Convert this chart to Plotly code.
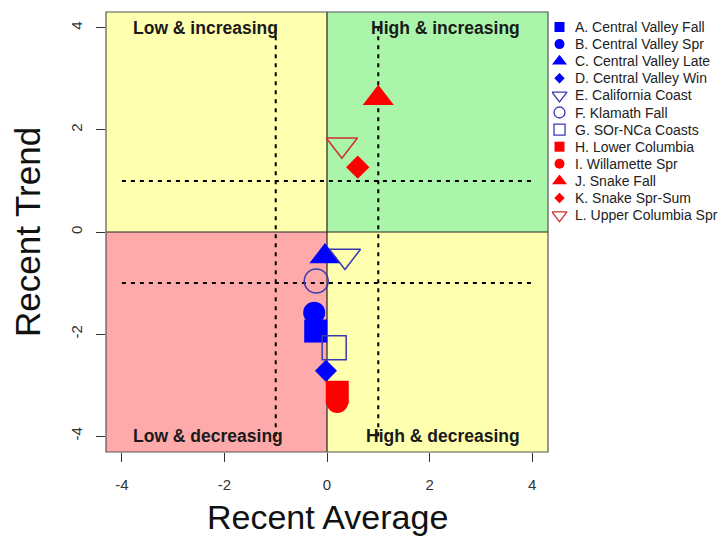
import plotly.graph_objects as go

# ---- data ----
labels = ["A. Central Valley Fall", "B. Central Valley Spr", "C. Central Valley Late",
          "D. Central Valley Win", "E. California Coast", "F. Klamath Fall",
          "G. SOr-NCa Coasts", "H. Lower Columbia", "I. Willamette Spr",
          "J. Snake Fall", "K. Snake Spr-Sum", "L. Upper Columbia Spr"]
recent_avg = [-0.22, -0.25, -0.04, -0.02, 0.35, -0.21, 0.14, 0.20, 0.20, 1.00, 0.60, 0.29]
recent_trend = [-1.94, -1.58, -0.48, -2.72, -0.47, -0.96, -2.27, -3.14, -3.33, 2.62, 1.27, 1.71]
symbols = ["square", "circle", "triangle-up", "diamond", "triangle-down-open", "circle-open",
           "square-open", "square", "circle", "triangle-up", "diamond", "triangle-down-open"]
colors = ["#0000FF", "#0000FF", "#0000FF", "#0000FF", "#3A3AB0", "#3A3AB0",
          "#3A3AB0", "#FF0000", "#FF0000", "#FF0000", "#FF0000", "#CC3030"]
sizes = [23, 22, 27, 17, 27, 24, 24, 23, 22, 27, 18, 27]
legend_sizes = [10, 10, 13, 8, 13, 11, 11, 10, 10, 13, 8, 13]

quadrant_labels = ["Low & increasing", "High & increasing", "Low & decreasing", "High & decreasing"]
quadrant_label_x = [-2.37, 2.32, -2.32, 2.26]
quadrant_label_y = [4.0, 4.0, -4.0, -4.0]
ref_lines = [-1, 1]
ref_extent = [-4, 4]
ticks = [-4, -2, 0, 2, 4]
lim = 4.31

FONT = "Liberation Sans, Arial, Helvetica, sans-serif"

W, H = 725, 537
ML, MR, MT, MB = 106, 0, 12, 85
plot_w = 442
paper_w = W - ML - MR
main_dom = plot_w / paper_w
leg_left_px = 552
leg_dom0 = (leg_left_px - ML) / paper_w
leg_width_px = W - leg_left_px
# legend rows: y axis in row units
row0_px, row_step_px = 27, 17.1
plot_h = H - MT - MB
r_top = -(row0_px - MT) / row_step_px
r_bot = r_top + plot_h / row_step_px
leg_marker_x = 7.5
leg_text_x = 20.5

fig = go.Figure()
for i, lab in enumerate(labels):
    open_sym = symbols[i].endswith("open")
    fig.add_trace(go.Scatter(
        x=[recent_avg[i]], y=[recent_trend[i]], mode="markers", name=lab,
        showlegend=False, xaxis="x", yaxis="y",
        marker=dict(symbol=symbols[i], size=sizes[i], color=colors[i],
                    line=dict(width=1.5 if open_sym else 0, color=colors[i])),
    ))

# custom legend (rows drawn through a hidden auxiliary axis pair)
rows = list(range(len(labels)))
for i in rows:
    open_sym = symbols[i].endswith("open")
    fig.add_trace(go.Scatter(
        x=[leg_marker_x], y=[i], mode="markers", showlegend=False, hoverinfo="skip",
        xaxis="x2", yaxis="y2",
        marker=dict(symbol=symbols[i], size=legend_sizes[i], color=colors[i],
                    line=dict(width=1.3 if open_sym else 0, color=colors[i])),
    ))

shapes = []
quads = [(-lim, 0, 0, lim, "#FFFFB0"), (0, lim, 0, lim, "#AAF5AA"),
         (-lim, 0, -lim, 0, "#FFAAAA"), (0, lim, -lim, 0, "#FFFFB0")]
for x0, x1, y0, y1, c in quads:
    shapes.append(dict(type="rect", xref="x", yref="y", x0=x0, x1=x1, y0=y0, y1=y1,
                       fillcolor=c, line=dict(width=0), layer="below"))
shapes.append(dict(type="line", xref="x", yref="y", x0=0, x1=0, y0=-lim, y1=lim,
                   line=dict(color="#222222", width=1.2), layer="below"))
shapes.append(dict(type="line", xref="x", yref="y", x0=-lim, x1=lim, y0=0, y1=0,
                   line=dict(color="#222222", width=1.2), layer="below"))
for v in ref_lines:
    shapes.append(dict(type="line", xref="x", yref="y", x0=v, x1=v, y0=ref_extent[0], y1=ref_extent[1],
                       line=dict(color="#000000", width=2, dash="4px,5px"), layer="below"))
    shapes.append(dict(type="line", xref="x", yref="y", x0=ref_extent[0], x1=ref_extent[1], y0=v, y1=v,
                       line=dict(color="#000000", width=2, dash="4px,5px"), layer="below"))
shapes.append(dict(type="rect", xref="x domain", yref="y domain", x0=0, x1=1, y0=0, y1=1,
                   line=dict(color="#555555", width=1.2), layer="above"))

annotations = [dict(x=quadrant_label_x[i], y=quadrant_label_y[i], xref="x", yref="y",
                    text="<b>%s</b>" % quadrant_labels[i], showarrow=False,
                    font=dict(family=FONT, size=17.5, color="#1a1a1a"))
               for i in range(4)]
for i in rows:
    annotations.append(dict(x=leg_text_x, y=i, xref="x2", yref="y2", text=labels[i],
                            showarrow=False, xanchor="left", yanchor="middle",
                            font=dict(family=FONT, size=14, color="#222222")))
# axis titles
annotations.append(dict(x=0.5, y=0, xref="x domain", yref="y domain", text="Recent Average",
                        showarrow=False, xanchor="center", yanchor="middle", yshift=-65,
                        font=dict(family=FONT, size=34, color="#111111")))
annotations.append(dict(x=0, y=0.5, xref="x domain", yref="y domain", text="Recent Trend",
                        showarrow=False, xanchor="center", yanchor="middle", xshift=-79,
                        textangle=-90, font=dict(family=FONT, size=35, color="#111111")))

fig.update_layout(
    width=W, height=H,
    margin=dict(l=ML, r=MR, t=MT, b=MB),
    paper_bgcolor="white", plot_bgcolor="white",
    font=dict(family=FONT, color="#222222"),
    shapes=shapes, annotations=annotations,
    showlegend=False,
    xaxis=dict(domain=[0, main_dom], range=[-lim, lim], tickvals=ticks, ticktext=[str(t) for t in ticks],
               showgrid=False, zeroline=False, showline=False,
               ticks="outside", ticklen=9, tickcolor="#333333", ticklabelstandoff=10,
               tickfont=dict(size=15, color="#333333")),
    yaxis=dict(domain=[0, 1], range=[-lim, lim], tickvals=ticks, ticktext=[str(t) for t in ticks],
               showgrid=False, zeroline=False, showline=False,
               ticks="outside", ticklen=9, tickcolor="#333333", tickangle=-90, ticklabelstandoff=8,
               tickfont=dict(size=15, color="#333333")),
    xaxis2=dict(domain=[leg_dom0, 1], range=[0, leg_width_px], visible=False, anchor="y2"),
    yaxis2=dict(domain=[0, 1], range=[r_bot, r_top], visible=False, anchor="x2"),
)

fig.write_html("out.html")
